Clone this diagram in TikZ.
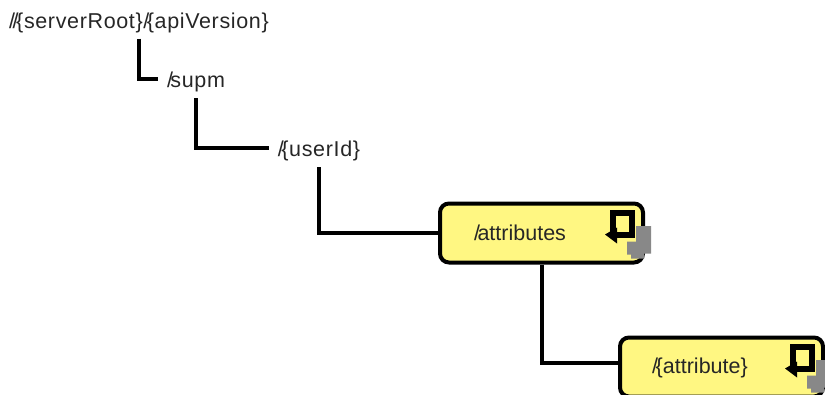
\documentclass[tikz,border=0pt]{standalone}
\usepackage{fontspec}
\setmainfont{Liberation Sans}
\definecolor{boxyellow}{RGB}{255, 247, 130}
\definecolor{cornergray}{RGB}{136, 136, 136}
\newcommand{\slh}{/\kern-2.5pt}
\tikzset{
    label/.style={font=\addfontfeature{LetterSpace=3}\fontsize{21.5}{23}\selectfont, text=black!85, inner xsep=9pt, inner ysep=0pt, text height=22pt, text depth=5pt, minimum height=38pt},
    boxlabel/.style={label, font=\fontsize{21.5}{23}\selectfont},
    resbox/.style={draw, line width=4pt, rounded corners=9pt, fill=boxyellow, minimum width=203pt, minimum height=59pt},
    link/.style={line width=4pt},
    resicon/.pic={
        \fill[cornergray] (-9,24.5) -- (6,24.5) -- (6,52) -- (-1,52) -- (-1,57) -- (-14,57) -- (-14,53) -- (-18,53) -- (-18,40) -- (-9,40) -- cycle;
        \draw[line width=6pt] (-32,31) -- (-32,11.5) -- (-13,11.5) -- (-13,33.5) -- (-30,33.5);
        \fill (-40,33) -- (-28,26) -- (-28,42) -- cycle;
    }
}
\begin{document}
\begin{tikzpicture}[x=1pt, y=-1pt]
    \useasboundingbox (0,0) rectangle (825,394);
    \node[label] (root) at (139,19.5) {\slh\slh\{serverRoot\}\slh\{apiVersion\}};
    \node[label] (supm) at (196,79) {\slh supm};
    \node[label] (userid) at (319,148) {\slh\{userId\}};
    \node[resbox] (attributes) at (541.5,233) {};
    \node[resbox] (attribute) at (721.5,367) {};
    \draw[link] (root.south) |- (supm.west);
    \draw[link] (supm.south) |- (userid.west);
    \draw[link] (userid.south) |- (attributes.west);
    \draw[link] (attributes.south) |- (attribute.178);
    \pic at (attributes.north east) {resicon};
    \pic at (attribute.north east) {resicon};
    \node[boxlabel] (attributestext) at (520,232) {\slh attributes};
    \node[boxlabel] (attributetext) at (700,365) {\slh\{attribute\}};
\end{tikzpicture}
\end{document}
